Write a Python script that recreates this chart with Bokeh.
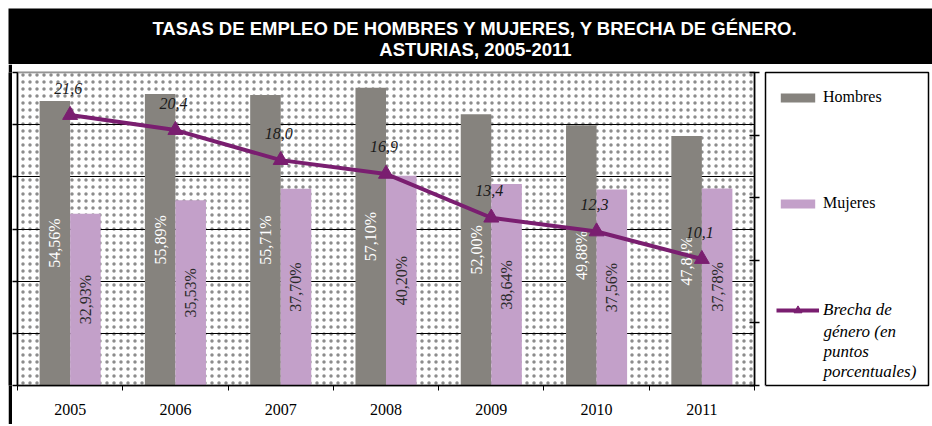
import math
from bokeh.plotting import figure
from bokeh.models import (ColumnDataSource, Range1d, LinearAxis, FixedTicker, BoxAnnotation,
                          Legend, LegendItem, Label)
from bokeh.layouts import column, row
from bokeh.transform import dodge
from bokeh.core.properties import value
from bokeh.embed import file_html
from bokeh.resources import INLINE

# ---------------- data ----------------
years = ["2005", "2006", "2007", "2008", "2009", "2010", "2011"]
hombres = [54.56, 55.89, 55.71, 57.10, 52.00, 49.88, 47.84]
mujeres = [32.93, 35.53, 37.70, 40.20, 38.64, 37.56, 37.78]
brecha = [21.6, 20.4, 18.0, 16.9, 13.4, 12.3, 10.1]
title_lines = ["TASAS DE EMPLEO DE HOMBRES Y MUJERES, Y BRECHA DE GÉNERO.",
               "ASTURIAS, 2005-2011"]
legend_labels = ["Hombres", "Mujeres", "Brecha de\ngénero (en\npuntos\nporcentuales)"]
left_ticks = [0, 10, 20, 30, 40, 50, 60]
right_ticks = [0, 5, 10, 15, 20, 25]

# ---------------- styles ----------------
GRAY = "#86837e"
PINK = "#c3a0c9"
PURPLE = "#7a1e70"
SERIF = "Liberation Serif"
SANS = "Liberation Sans"
ROW_H = 360

idx = list(range(len(years)))
fmt2 = lambda v: f"{v:.2f}".replace(".", ",") + "%"
fmt1 = lambda v: f"{v:.1f}".replace(".", ",")
src = ColumnDataSource(dict(
    x=idx, hombres=hombres, mujeres=mujeres, brecha=brecha,
    h_mid=[v / 2 for v in hombres], m_mid=[v / 2 for v in mujeres],
    h_lab=[fmt2(v) for v in hombres], m_lab=[fmt2(v) for v in mujeres],
    b_lab=[fmt1(v) for v in brecha],
))

# ---------------- header ----------------
hdr = figure(width=924, height=56, x_range=Range1d(0, 924), y_range=Range1d(0, 56),
             output_backend="svg", toolbar_location=None, title=None,
             x_axis_location=None, y_axis_location=None, min_border=0,
             background_fill_color="black", border_fill_color="black",
             outline_line_color=None)
hdr.grid.visible = False
for yy, t in zip([36.5, 15], title_lines):
    hdr.add_layout(Label(x=467, y=yy, text=t, text_align="center", text_baseline="middle",
                         text_font=SANS, text_font_style="bold", text_font_size="18.5px",
                         text_color="white"))

# ---------------- left black bar ----------------
bar = figure(width=4, height=ROW_H, output_backend="svg", toolbar_location=None, title=None,
             x_axis_location=None, y_axis_location=None, min_border=0,
             background_fill_color="black", border_fill_color="black",
             outline_line_color=None)
bar.grid.visible = False

# ---------------- main chart ----------------
HW = 0.29
OFF = 0.145
p = figure(width=750, height=ROW_H, x_range=Range1d(-0.5, len(years) - 0.5),
           y_range=Range1d(left_ticks[0], left_ticks[-1]),
           output_backend="svg", toolbar_location=None, title=None,
           min_border_left=5, min_border_right=8, min_border_top=8, min_border_bottom=39,
           background_fill_color="white", border_fill_color="white",
           outline_line_color="#8a8a8a", outline_line_width=2)
p.extra_y_ranges = {"brecha": Range1d(right_ticks[0], right_ticks[-1])}

p.add_layout(BoxAnnotation(fill_color="white", hatch_pattern="dot", hatch_color="#8c8c8c",
                           hatch_scale=7, hatch_weight=1, line_color=None, level="image"))

xa = p.xaxis[0]
xa.ticker = FixedTicker(ticks=idx, minor_ticks=[i - 0.5 for i in idx] + [idx[-1] + 0.5])
xa.major_label_overrides = {i: y for i, y in zip(idx, years)}
xa.major_tick_out = 0
xa.major_tick_in = 0
xa.minor_tick_out = 5
xa.minor_tick_in = 0
xa.minor_tick_line_color = "black"
xa.axis_line_color = "black"
xa.axis_line_width = 1.5
xa.major_label_standoff = 13
xa.major_label_text_font = SERIF
xa.major_label_text_font_size = "16px"
xa.major_label_text_color = "black"

ya = p.yaxis[0]
ya.ticker = FixedTicker(ticks=[], minor_ticks=left_ticks)
ya.major_tick_out = 0
ya.major_tick_in = 0
ya.minor_tick_out = 5
ya.minor_tick_in = 0
ya.minor_tick_line_color = "black"
ya.minor_tick_line_width = 1.5
ya.axis_line_width = 1.5
ya.axis_line_color = "black"

ra = LinearAxis(y_range_name="brecha", ticker=FixedTicker(ticks=[], minor_ticks=right_ticks),
                major_tick_in=0, major_tick_out=0, minor_tick_in=5, minor_tick_out=5,
                minor_tick_line_color="black", minor_tick_line_width=1.5,
                axis_line_color="black", axis_line_width=1.5)
p.add_layout(ra, "right")

p.xgrid.visible = False
p.ygrid.ticker = FixedTicker(ticks=left_ticks[1:-1])
p.ygrid.grid_line_color = "black"
p.ygrid.grid_line_width = 1

p.vbar(x=dodge("x", -OFF), top="hombres", width=HW, source=src,
       fill_color=GRAY, line_color=None)
p.vbar(x=dodge("x", OFF), top="mujeres", width=HW, source=src,
       fill_color=PINK, line_color=None)
p.text(x=dodge("x", -OFF), y="h_mid", text="h_lab", angle=math.pi / 2, source=src,
       text_align="center", text_baseline="middle", text_font=value(SERIF),
       text_font_size="16px", text_color="white")
p.text(x=dodge("x", OFF), y="m_mid", text="m_lab", angle=math.pi / 2, source=src,
       text_align="center", text_baseline="middle", text_font=value(SERIF),
       text_font_size="16px", text_color="#2a2a2a")

p.line("x", "brecha", y_range_name="brecha", source=src, line_color=PURPLE, line_width=4)
p.scatter("x", "brecha", y_range_name="brecha", source=src, marker="triangle", size=15,
          fill_color=PURPLE, line_color=PURPLE)
p.text("x", "brecha", text="b_lab", y_range_name="brecha", source=src, x_offset=-2,
       y_offset=-27, text_align="center", text_baseline="middle", text_font=value(SERIF),
       text_font_style="italic", text_font_size="16px", text_color="#1a1a1a")

# ---------------- legend panel ----------------
lf = figure(width=170, height=ROW_H, x_range=Range1d(100, 101), y_range=Range1d(100, 101),
            output_backend="svg", toolbar_location=None, title=None,
            x_axis_location=None, y_axis_location=None,
            min_border_left=3, min_border_right=4, min_border_top=8, min_border_bottom=39,
            background_fill_color="white", border_fill_color="white",
            outline_line_color="black", outline_line_width=1.5)
lf.grid.visible = False
# legend swatches (renderers sit outside the visible ranges, only their legend entries show)
rh = lf.vbar(x="x", top="hombres", width=HW, source=src, fill_color=GRAY, line_color=None)
rm = lf.vbar(x="x", top="mujeres", width=HW, source=src, fill_color=PINK, line_color=None)
rl = lf.line("x", "brecha", source=src, line_color=PURPLE, line_width=4)
rs = lf.scatter("x", "brecha", source=src, marker="triangle", size=15,
                fill_color=PURPLE, line_color=PURPLE)

leg1 = Legend(items=[LegendItem(label=legend_labels[0], renderers=[rh]),
                     LegendItem(label=legend_labels[1], renderers=[rm])],
              location="top_left", margin=11, padding=0, spacing=78, label_height=28,
              glyph_height=11, glyph_width=43, label_standoff=4,
              label_text_font=SERIF, label_text_font_size="16px", label_text_color="black",
              border_line_color=None, background_fill_alpha=0)
brecha_lines = legend_labels[2].split("\n")
leg2 = Legend(items=[LegendItem(label=brecha_lines[0], renderers=[rl, rs])],
              location=(11, 65), margin=0, padding=0, glyph_height=20, glyph_width=43,
              label_height=20, label_standoff=4, label_text_font=SERIF,
              label_text_font_size="17px", label_text_font_style="italic",
              label_text_color="black",
              border_line_color=None, background_fill_alpha=0)
lf.add_layout(leg1)
lf.add_layout(leg2)
for k, line_txt in enumerate(brecha_lines[1:]):
    lf.add_layout(Label(x=58, y=54 - 20 * k, x_units="screen", y_units="screen",
                        text=line_txt, text_align="left", text_baseline="middle",
                        text_font=SERIF, text_font_style="italic", text_font_size="17px",
                        text_color="black"))

layout = column(hdr, row(bar, p, lf, spacing=0), spacing=0, margin=(8, 0, 0, 8))
open("out.html", "w").write(file_html(layout, INLINE))
